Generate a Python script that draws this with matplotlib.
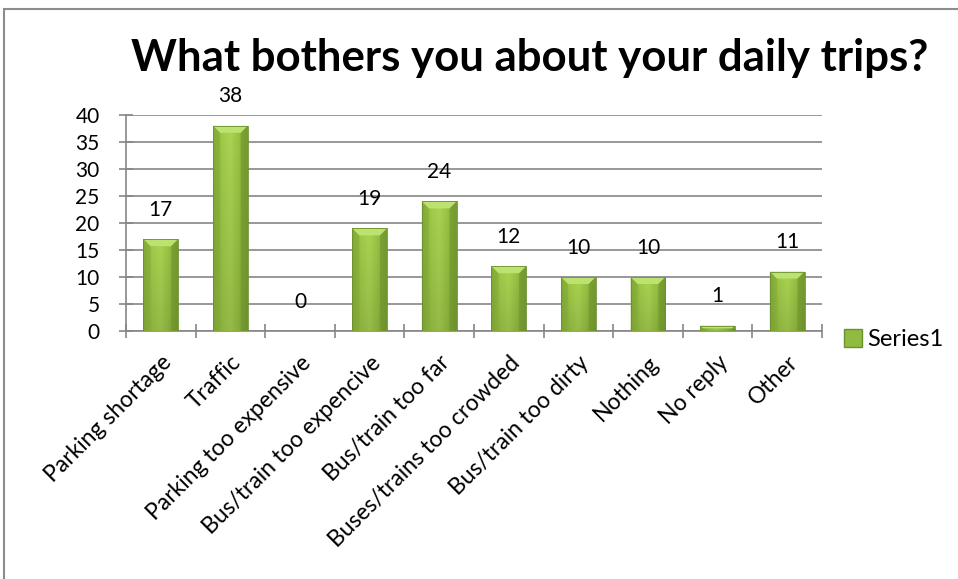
import numpy as np
import matplotlib.pyplot as plt
from matplotlib.colors import LinearSegmentedColormap
from matplotlib.patches import Polygon, Rectangle
from matplotlib.lines import Line2D

plt.rcParams['font.family'] = ['Lato', 'DejaVu Sans']

# survey answers
categories = ['Parking shortage', 'Traffic', 'Parking too expensive',
              'Bus/train too expencive', 'Bus/train too far',
              'Buses/trains too crowded', 'Bus/train too dirty',
              'Nothing', 'No reply', 'Other']
counts = [17, 38, 0, 19, 24, 12, 10, 10, 1, 11]
series_name = 'Series1'
chart_title = 'What bothers you about your daily trips?'
y_ticks = [0, 5, 10, 15, 20, 25, 30, 35, 40]

fig = plt.figure(figsize=(9.58, 5.79), dpi=100)
ax = fig.add_axes([0.1315, 0.4283, 0.7265, 0.3731])

# outer chart frame (only top and left edges fall inside the image)
fig.patches.append(Rectangle((4 / 958, -0.5), 2, 1.5 - 9 / 579, transform=fig.transFigure,
                             fill=False, edgecolor='#8c8c8c', linewidth=1.5))

x = np.arange(len(categories))
bars = ax.bar(x, counts, width=0.5, color='none', edgecolor='none', zorder=3)

ax.set_xlim(-0.5, len(categories) - 0.5)
ax.set_ylim(0, 40)

# horizontal shading: dark edges, light middle
body = LinearSegmentedColormap.from_list('body', ['#7ba535', '#a0ca48', '#aad452', '#98c243', '#7ca236'])
grad = np.tile(np.linspace(0, 1, 64), (32, 1))
shade = np.linspace(1.0, 0.88, 32)[:, None, None]

px_y = 40 / 216.0
px_x = 10 / 696.0
for b in bars:
    x0, w, h = b.get_x(), b.get_width(), b.get_height()
    if h <= 0:
        continue
    rgba = body(grad)
    rgba[..., :3] *= shade
    im = ax.imshow(rgba, extent=(x0, x0 + w, 0, h), origin='upper',
                   aspect='auto', zorder=3, interpolation='bilinear')
    im.set_clip_path(b)
    # bevelled top
    d = min(7 * px_y, h / 2)
    dx = d / px_y * px_x
    ax.add_patch(Polygon([(x0, h), (x0 + w, h), (x0 + w - dx, h - d), (x0 + dx, h - d)],
                         closed=True, facecolor='#bce26f', edgecolor='none', zorder=4))
    ax.add_patch(Polygon([(x0, h), (x0 + dx, h - d), (x0 + dx, 0), (x0, 0)],
                         closed=True, facecolor='#86ad38', edgecolor='none', alpha=0.6, zorder=4))
    ax.add_patch(Polygon([(x0 + w, h), (x0 + w - dx, h - d), (x0 + w - dx, 0), (x0 + w, 0)],
                         closed=True, facecolor='#6f952c', edgecolor='none', alpha=0.6, zorder=4))
    ax.add_patch(Rectangle((x0, 0), w, h, fill=False, edgecolor='#6d8f30',
                           linewidth=0.6, zorder=5))

for xi, v in zip(x, counts):
    ax.annotate(str(v), (xi, v), xytext=(0, 14), textcoords='offset points',
                ha='center', va='bottom', fontsize=15)

ax.set_yticks(y_ticks)
ax.tick_params(axis='y', labelsize=15, direction='inout', length=10, width=1.2,
               color='#868686', pad=14)
ax.yaxis.grid(True, color='#868686', linewidth=1.2, zorder=0)
ax.set_axisbelow(True)

ax.set_xticks(x)
ax.set_xticklabels(categories, rotation=45, ha='right', va='top',
                   rotation_mode='anchor', fontsize=16.5)
ax.tick_params(axis='x', length=0, pad=15)
ax.set_xticks(np.arange(len(categories) + 1) - 0.5, minor=True)
ax.tick_params(axis='x', which='minor', direction='inout', length=10, width=1.2,
               color='#868686')

for side in ['top', 'right']:
    ax.spines[side].set_visible(False)
for side in ['left', 'bottom']:
    ax.spines[side].set_color('#868686')
    ax.spines[side].set_linewidth(1.2)

fig.text(0.553, 0.90, chart_title, ha='center', va='center',
         fontsize=31.5, fontweight='bold')

handle = Line2D([], [], marker='s', linestyle='none', markersize=13,
                markerfacecolor='#8fbb40', markeredgecolor='#6d8f30')
fig.legend([handle], [series_name], loc='center left',
           bbox_to_anchor=(832 / 958, 1 - 340 / 579), frameon=False,
           fontsize=17, handletextpad=0.1, handlelength=1.0, borderaxespad=0)

fig.savefig('out.png', dpi=100)
